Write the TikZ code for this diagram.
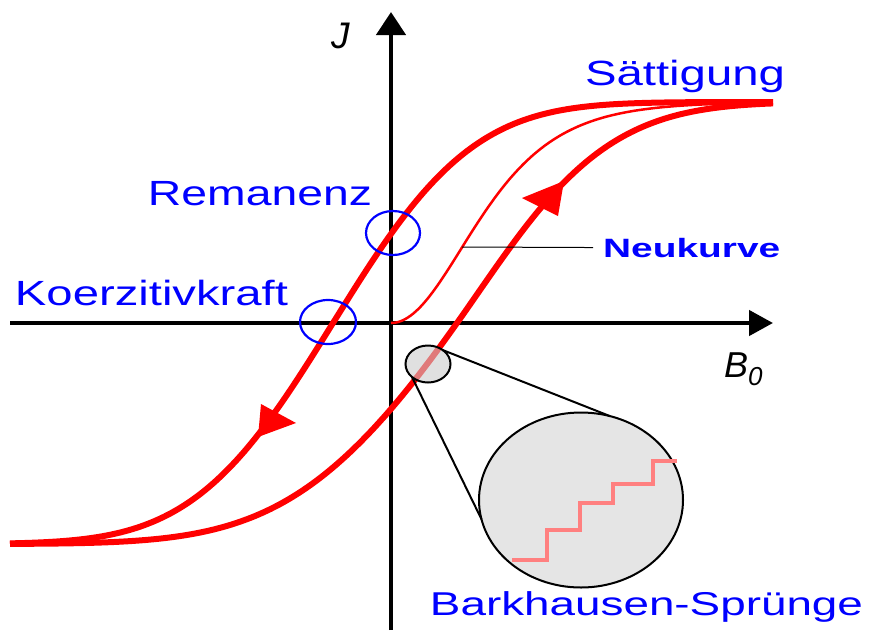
\documentclass[tikz,border=0pt]{standalone}
\usepackage{fontspec}
\setmainfont{Liberation Sans}
\usepackage{graphicx}
\usetikzlibrary{shapes.geometric,arrows.meta}
\newcommand\wfit[2]{\resizebox{#1}{\height}{#2}}
\begin{document}
\begin{tikzpicture}[x=1pt,y=-1pt,
  declare function={erfa(\z)=tanh(1.1284*(\z+0.0894*\z*\z*\z));},
  axis/.style={line width=4.5pt},
  branch/.style={red, line width=6pt, line join=round},
  neuline/.style={red, line width=2.5pt, line join=round},
  ring/.style={ellipse, draw=blue, line width=2.2pt, inner sep=0pt, outer sep=0pt},
  lensstyle/.style={ellipse, draw=black, line width=2pt, inner sep=0pt, outer sep=0pt},
  lab/.style={text=blue, inner sep=0pt, anchor=base, font=\fontsize{35pt}{35pt}\selectfont},
  stairline/.style={red!50, line width=3.5pt},
  leader/.style={black, line width=1pt},
]
\useasboundingbox (0,0) rectangle (873,630);

% axes
\coordinate (xl) at (10,323);
\coordinate (xr) at (773,323);
\coordinate (yb) at (391,630);
\coordinate (yt) at (391,12);
\draw[axis,-{Triangle[length=24pt,width=25pt]}] (xl) -- (xr);
\draw[axis,-{Triangle[length=23pt,width=29pt]}] (yb) -- (yt);

% upper (descending) branch
\draw[branch] plot[domain=773:10, samples=200]
  (\x, {323 - 221*erfa((\x-333)/155)});
% lower (ascending) branch
\draw[branch] plot[domain=10:773, samples=200]
  (\x, {323 - 221*erfa((\x-457)/(176-11*tanh((\x-457)/80)))});
% Neukurve
\draw[neuline] plot[domain=391:755, samples=150]
  (\x, {323 - 221*pow(tanh((\x-391)/106),2)});

% arrowheads on the branches
\fill[red] (258,437) -- (261,404) -- (296,423) -- cycle;
\fill[red] (564,181) -- (522,198) -- (558,216) -- cycle;

% marker rings
\node[ring, minimum width=54pt, minimum height=44pt] (remring) at (393,233) {};
\node[ring, minimum width=56pt, minimum height=44pt] (koerring) at (328,322) {};

% magnifier
\node[lensstyle, fill=black!20, fill opacity=0.6, minimum width=45pt, minimum height=37pt] (lens) at (428,364) {};
\node[lensstyle, fill=black!10, minimum width=204pt, minimum height=175pt] (bigview) at (581,500) {};
\draw[black, line width=2pt] (lens.43) -- (bigview.71);
\draw[black, line width=2pt] (lens.219) -- (bigview.191);
\draw[stairline] (512,560) -- (547,560) -- (547,530) -- (580,530) -- (580,503)
  -- (613,503) -- (613,484) -- (653,484) -- (653,461) -- (677,461);

% labels
\node[lab] (rem) at (260,205) {\wfit{224pt}{Remanenz}};
\node[lab] (koer) at (151.5,305) {\wfit{273pt}{Koerzitivkraft}};
\node[lab] (satt) at (685,85) {\wfit{200pt}{Sättigung}};
\node[lab, font=\fontsize{33pt}{33pt}\selectfont] (bark) at (646.5,615) {\wfit{433pt}{Barkhausen-Sprünge}};
\node[text=blue, anchor=base west, inner xsep=10pt, inner ysep=0pt,
  font=\bfseries\fontsize{26.5pt}{26.5pt}\selectfont] (neu) at (593,257) {\wfit{177pt}{Neukurve}};
\coordinate (nkpt) at (462,247);
\draw[leader] (nkpt) -- (neu.west);

\node[anchor=base, inner sep=0pt, font=\itshape\fontsize{37pt}{37pt}\selectfont] (jlab) at (341,48) {J};
\node[anchor=base west, inner sep=0pt, font=\itshape\fontsize{36pt}{36pt}\selectfont] (blab) at (724,377)
  {B\raisebox{-8pt}{\fontsize{26pt}{26pt}\selectfont 0}};
\end{tikzpicture}
\end{document}
